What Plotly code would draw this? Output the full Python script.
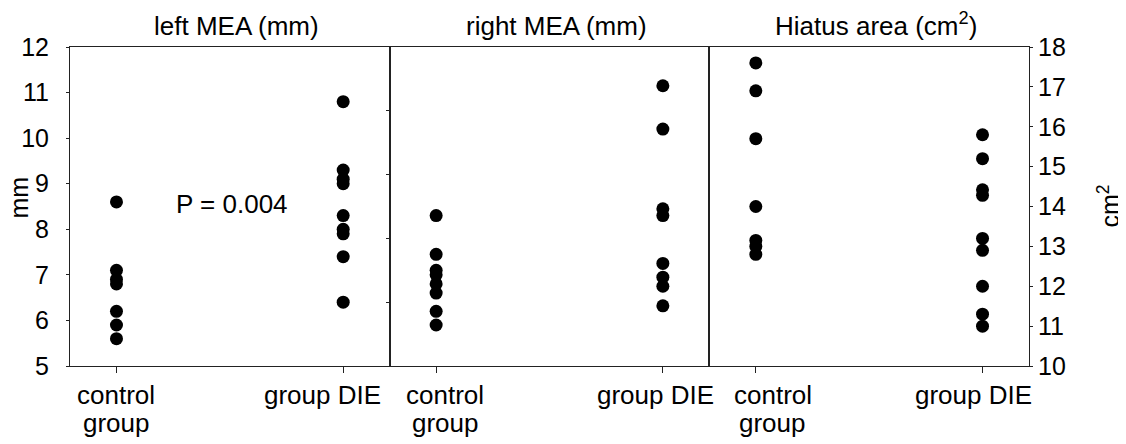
import plotly.graph_objects as go

categories = ["control<br>group", "group DIE"]
cat_pos = [0, 1]

left_control = [8.6, 7.1, 6.9, 6.8, 6.2, 5.9, 5.6]
left_die = [10.8, 9.3, 9.1, 9.0, 8.3, 8.0, 7.9, 7.4, 6.4]

right_control = [8.3, 7.45, 7.1, 7.0, 6.8, 6.6, 6.2, 5.9]
right_die = [11.15, 10.2, 8.45, 8.3, 7.25, 6.95, 6.75, 6.32]

hiatus_control = [17.6, 16.9, 15.7, 14.0, 13.15, 13.0, 12.8]
hiatus_die = [15.8, 15.2, 14.42, 14.28, 13.2, 12.9, 12.0, 11.3, 11.0]

panel_titles = ["left MEA (mm)", "right MEA (mm)", "Hiatus area (cm<sup>2</sup>)"]
p_text = "P = 0.004"

FONT = "Liberation Sans, Arial, sans-serif"
FS = 25
FX = 26
FT = 26
LINE = "#222222"

fig = go.Figure()

def add_group(vals_c, vals_d, xa, ya):
    xs = [cat_pos[0]] * len(vals_c) + [cat_pos[1]] * len(vals_d)
    ys = list(vals_c) + list(vals_d)
    fig.add_trace(go.Scatter(x=xs, y=ys, mode="markers", xaxis=xa, yaxis=ya,
                             marker=dict(color="black", size=13, line=dict(width=0)),
                             showlegend=False, hoverinfo="y"))

add_group(left_control, left_die, "x", "y")
add_group(right_control, right_die, "x2", "y2")
add_group(hiatus_control, hiatus_die, "x3", "y3")

xcommon = dict(range=[-0.205, 1.205], tickvals=cat_pos, showticklabels=False,
               showline=True, linecolor=LINE, linewidth=1, mirror=True,
               ticks="outside", ticklen=6, tickcolor=LINE, showgrid=False,
               zeroline=False)

# page body has an 8px margin: shrink the figure so that the plot box lands in place
fig.update_layout(
    width=1118, height=436,
    margin=dict(l=62, r=97, t=39, b=78, autoexpand=False),
    paper_bgcolor="white", plot_bgcolor="white",
    showlegend=False,
    xaxis=dict(domain=[0, 1/3], anchor="y", **xcommon),
    xaxis2=dict(domain=[1/3, 2/3], anchor="y2", **xcommon),
    xaxis3=dict(domain=[2/3, 1], anchor="y3", **xcommon),
    yaxis=dict(range=[5, 12], dtick=1, anchor="x", showline=True, linecolor=LINE,
               linewidth=1, mirror=True, ticks="outside", ticklen=3, tickcolor=LINE,
               showgrid=False, zeroline=False, ticklabelstandoff=12,
               tickfont=dict(family=FONT, size=FS, color="black")),
    yaxis2=dict(range=[5, 12], tickvals=[6.4, 7.8, 9.2, 10.6], anchor="x2",
                showticklabels=False, showline=True, linecolor=LINE, linewidth=1,
                mirror=True, ticks="outside", ticklen=3, tickcolor=LINE,
                showgrid=False, zeroline=False),
    yaxis3=dict(range=[10, 18], dtick=1, anchor="x3", side="right", showline=True,
                linecolor=LINE, linewidth=1, mirror=True, ticks="outside", ticklen=3,
                tickcolor=LINE, showgrid=False, zeroline=False, ticklabelstandoff=0,
                tickfont=dict(family=FONT, size=FS, color="black")),
)

ann = []
# category labels (nudged sideways as in the reference so neighbours do not collide)
label_shift = {("x", 0): 0, ("x", 1): -21, ("x2", 0): 9, ("x2", 1): -7,
               ("x3", 0): 17, ("x3", 1): -9}
for xa in ["x", "x2", "x3"]:
    ya = xa.replace("x", "y")
    for j, (pos, lab) in enumerate(zip(cat_pos, categories)):
        for k, line in enumerate(lab.split("<br>")):
            ann.append(dict(text=line, xref=xa, yref=f"{ya} domain", x=pos, y=0,
                            xanchor="center", yanchor="top", yshift=-12 - 28 * k,
                            xshift=label_shift[(xa, j)], showarrow=False,
                            font=dict(family=FONT, size=FX, color="black")))
for i, t in enumerate(panel_titles):
    ann.append(dict(text=t, xref="paper", yref="paper", x=(i + 0.5) / 3, y=1,
                    xanchor="center", yanchor="bottom", xshift=7, yshift=4,
                    showarrow=False, font=dict(family=FONT, size=FT, color="black")))
ann.append(dict(text=p_text, xref="x", yref="y", x=0.51, y=8.55, xanchor="center",
                yanchor="middle", showarrow=False,
                font=dict(family=FONT, size=FX, color="black")))
ann.append(dict(text="mm", xref="paper", yref="paper", x=0, y=0.5, xshift=-52, yshift=9,
                xanchor="center", yanchor="middle", textangle=-90, showarrow=False,
                font=dict(family=FONT, size=FS, color="black")))
ann.append(dict(text="cm<sup>2</sup>", xref="paper", yref="paper", x=1, y=0.5, xshift=79,
                xanchor="center", yanchor="middle", textangle=-90, showarrow=False,
                font=dict(family=FONT, size=FS, color="black")))
fig.update_layout(annotations=ann)

fig.write_html("out.html")
